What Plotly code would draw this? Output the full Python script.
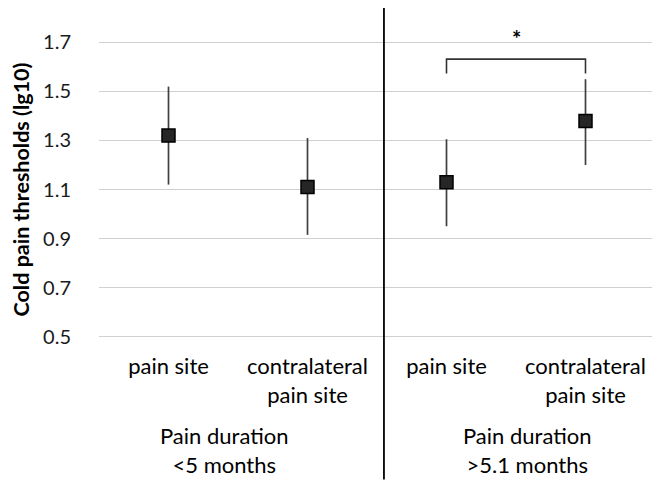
import plotly.graph_objects as go

# Data
categories = ["pain site", "contralateral<br>pain site", "pain site", "contralateral<br>pain site"]
group_labels = ["Pain duration<br><5 months", "Pain duration<br>>5.1 months"]
means = [1.32, 1.11, 1.13, 1.38]
err_plus = [0.20, 0.20, 0.175, 0.17]
err_minus = [0.20, 0.195, 0.18, 0.18]
y_ticks = [0.5, 0.7, 0.9, 1.1, 1.3, 1.5, 1.7]
y_tick_text = ["0.5", "0.7", "0.9", "1.1", "1.3", "1.5", "1.7"]
sig_pair = (2, 3)
sig_bracket_top = 1.632
sig_bracket_leg = 1.573
sig_star_y = 1.715

Y_RANGE = [0.49, 1.71]
x_idx = list(range(len(categories)))
FONT = "Lato"

fig = go.Figure()
fig.add_trace(go.Scatter(
    x=x_idx, y=means, mode="markers",
    marker=dict(symbol="square", size=13, color="#262626",
                line=dict(color="#000000", width=1.5)),
    error_y=dict(type="data", symmetric=False, array=err_plus, arrayminus=err_minus,
                 color="#404040", thickness=1.7, width=0),
    showlegend=False, cliponaxis=False,
))

# significance bracket
x0, x1 = sig_pair
fig.add_shape(type="path",
              path=f"M {x0},{sig_bracket_leg} L {x0},{sig_bracket_top} L {x1},{sig_bracket_top} L {x1},{sig_bracket_leg}",
              xref="x", yref="y", line=dict(color="#333333", width=1.6))
star_paper_y = (sig_star_y - Y_RANGE[0]) / (Y_RANGE[1] - Y_RANGE[0])
fig.add_annotation(x=(x0 + x1) / 2, y=star_paper_y, xref="x", yref="paper", text="<b>*</b>",
                   showarrow=False, yanchor="middle",
                   font=dict(family=FONT, size=22, color="#000"))

# divider between groups
fig.add_shape(type="line", x0=1.55, x1=1.55, y0=-0.47, y1=1.14, xref="x", yref="paper",
              line=dict(color="#000000", width=1.8))

# group labels
for gx, txt in zip([0.405, 2.58], group_labels):
    fig.add_annotation(x=gx, y=-0.37, xref="x", yref="paper", text=txt, showarrow=False,
                       font=dict(family=FONT, size=22, color="#000"), align="center",
                       yanchor="middle")

fig.update_layout(
    width=652, height=475,
    margin=dict(l=91, r=5, t=32, b=143.5),
    plot_bgcolor="white", paper_bgcolor="white",
    font=dict(family=FONT, color="#000"),
    xaxis=dict(range=[-0.5, 3.5], tickvals=x_idx, ticktext=categories, showgrid=False,
               zeroline=False, showline=False, ticks="", tickfont=dict(size=22, color="#000"),
               ticklabelstandoff=12, automargin=False),
    yaxis=dict(range=Y_RANGE, tickvals=y_ticks, ticktext=y_tick_text, showgrid=True,
               gridcolor="#d0d0d0", gridwidth=1.3, zeroline=False, showline=False,
               tickfont=dict(size=20, color="#1a1a1a"), ticklabelstandoff=27,
               automargin=False,
               title=dict(text="<b>Cold pain thresholds (lg10)</b>", font=dict(size=21.5, color="#000"),
                          standoff=22)),
)

fig.write_html("out.html")
